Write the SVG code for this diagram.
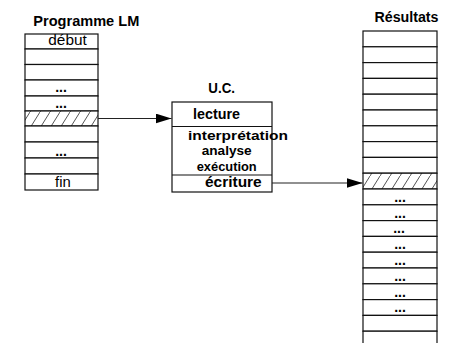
<svg xmlns="http://www.w3.org/2000/svg" width="459" height="343" viewBox="0 0 459 343">
<style>
.bg{fill:#fff}
.cell{fill:#fff;stroke:#111;stroke-width:1.2}
.hatch{fill:url(#hatch);stroke:#111;stroke-width:1.2}
.title{font-family:"Liberation Sans",Arial,sans-serif;font-weight:bold;font-size:14px;fill:#000}
.bold{font-family:"Liberation Sans",Arial,sans-serif;font-weight:bold;font-size:15px;fill:#000}
.mid{font-family:"Liberation Sans",Arial,sans-serif;font-weight:bold;font-size:13.5px;fill:#000}
.reg{font-family:"Liberation Sans",Arial,sans-serif;font-size:15px;fill:#000}
.dots{font-family:"Liberation Sans",Arial,sans-serif;font-size:14px;font-weight:bold;fill:#000;text-anchor:middle}
.conn{stroke:#222;stroke-width:1.1;fill:none}
</style>
<defs>
<pattern id="hatch" patternUnits="userSpaceOnUse" width="10" height="16">
<rect width="10" height="16" fill="#fff"/>
<path d="M0,16 L10,0" stroke="#555" stroke-width="1"/>
</pattern>
<marker id="arrow" markerUnits="userSpaceOnUse" markerWidth="16" markerHeight="10" refX="16" refY="5" orient="auto">
<path d="M0,0 L16,5 L0,10 z" fill="#000"/>
</marker>
</defs>
<rect class="bg" width="459" height="343"/>

<g id="node-programme">
<text class="title" x="33.3" y="26.3" textLength="106" lengthAdjust="spacingAndGlyphs">Programme LM</text>
<rect class="cell" x="25" y="34" width="73" height="15"/>
<rect class="cell" x="25" y="49" width="73" height="15.5"/>
<rect class="cell" x="25" y="64.5" width="73" height="15.5"/>
<rect class="cell" x="25" y="80" width="73" height="16"/>
<rect class="cell" x="25" y="96" width="73" height="15"/>
<rect class="hatch" x="25" y="111" width="73" height="15"/>
<rect class="cell" x="25" y="126" width="73" height="16"/>
<rect class="cell" x="25" y="142" width="73" height="16"/>
<rect class="cell" x="25" y="158" width="73" height="16"/>
<rect class="cell" x="25" y="174" width="73" height="16"/>
<text class="reg" x="48.3" y="44.5" textLength="38.5" lengthAdjust="spacingAndGlyphs">début</text>
<text class="dots" x="61" y="92">...</text>
<text class="dots" x="61" y="108">...</text>
<text class="dots" x="61" y="156">...</text>
<text class="reg" x="55" y="187" textLength="15.7" lengthAdjust="spacingAndGlyphs">fin</text>
</g>

<g id="node-uc">
<text class="title" x="208.3" y="93" textLength="26.7" lengthAdjust="spacingAndGlyphs">U.C.</text>
<rect class="cell" x="172" y="102" width="100" height="90"/>
<line class="cell" x1="172" y1="126.5" x2="272" y2="126.5"/>
<line class="cell" x1="172" y1="175" x2="272" y2="175"/>
<text class="bold" x="193" y="119" textLength="47" lengthAdjust="spacingAndGlyphs">lecture</text>
<text class="mid" x="188" y="139.5" textLength="100" lengthAdjust="spacingAndGlyphs">interprétation</text>
<text class="mid" x="201.7" y="155" textLength="50" lengthAdjust="spacingAndGlyphs">analyse</text>
<text class="mid" x="196.7" y="170.5" textLength="60" lengthAdjust="spacingAndGlyphs">exécution</text>
<text class="bold" x="205" y="187" textLength="56.7" lengthAdjust="spacingAndGlyphs">écriture</text>
</g>

<g id="node-resultats">
<text class="title" x="374.5" y="21.7" textLength="64" lengthAdjust="spacingAndGlyphs">Résultats</text>
<rect class="cell" x="363" y="31" width="74" height="15.8"/>
<rect class="cell" x="363" y="46.8" width="74" height="15.8"/>
<rect class="cell" x="363" y="62.6" width="74" height="15.8"/>
<rect class="cell" x="363" y="78.4" width="74" height="15.8"/>
<rect class="cell" x="363" y="94.2" width="74" height="15.8"/>
<rect class="cell" x="363" y="110" width="74" height="15.8"/>
<rect class="cell" x="363" y="125.8" width="74" height="15.8"/>
<rect class="cell" x="363" y="141.6" width="74" height="15.8"/>
<rect class="cell" x="363" y="157.4" width="74" height="15.8"/>
<rect class="hatch" x="363" y="173.2" width="74" height="15.8"/>
<rect class="cell" x="363" y="189" width="74" height="15.8"/>
<rect class="cell" x="363" y="204.8" width="74" height="15.8"/>
<rect class="cell" x="363" y="220.6" width="74" height="15.8"/>
<rect class="cell" x="363" y="236.4" width="74" height="15.8"/>
<rect class="cell" x="363" y="252.2" width="74" height="15.8"/>
<rect class="cell" x="363" y="268" width="74" height="15.8"/>
<rect class="cell" x="363" y="283.8" width="74" height="15.8"/>
<rect class="cell" x="363" y="299.6" width="74" height="15.8"/>
<rect class="cell" x="363" y="315.4" width="74" height="15.8"/>
<rect class="cell" x="363" y="331.2" width="74" height="15.8"/>
<text class="dots" x="400" y="202">...</text>
<text class="dots" x="400" y="217.6">...</text>
<text class="dots" x="399" y="233.4">...</text>
<text class="dots" x="400" y="249.2">...</text>
<text class="dots" x="400" y="265">...</text>
<text class="dots" x="400" y="280.8">...</text>
<text class="dots" x="400" y="296.6">...</text>
<text class="dots" x="400" y="312.4">...</text>
</g>

<g id="connectors">
<line class="conn" x1="98" y1="118.5" x2="171.5" y2="118.5" marker-end="url(#arrow)"/>
<line class="conn" x1="272" y1="183" x2="362.5" y2="183" marker-end="url(#arrow)"/>
</g>
</svg>
